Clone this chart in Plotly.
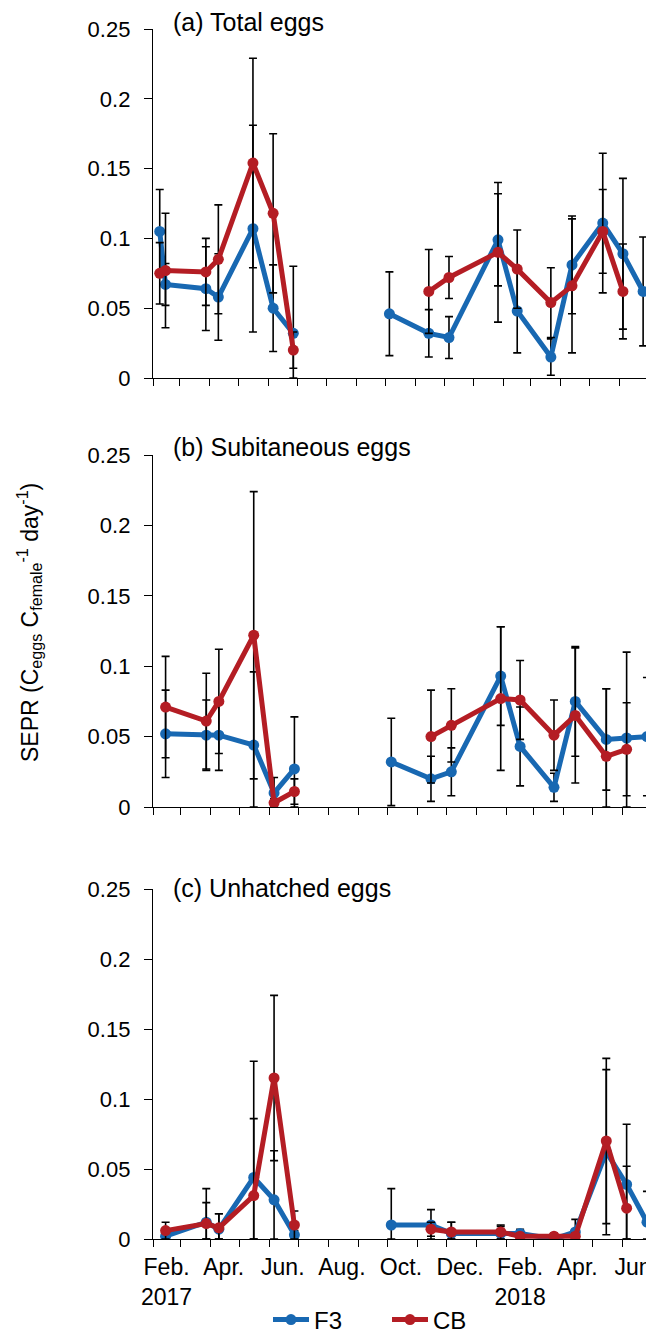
import datetime as dt
import plotly.graph_objects as go

# ---------------- data ----------------
dates = ["2017-02-08", "2017-02-14", "2017-03-28", "2017-04-10", "2017-05-16", "2017-06-06",
         "2017-06-27", "2017-10-05", "2017-11-15", "2017-12-06", "2018-01-26", "2018-02-15",
         "2018-03-22", "2018-04-13", "2018-05-15", "2018-06-05", "2018-06-26"]

# (a) Total eggs
f3_total = [0.105, 0.067, 0.064, 0.058, 0.107, 0.050, 0.032, 0.046, 0.032, 0.029, 0.099, 0.048,
            0.015, 0.081, 0.111, 0.089, 0.062]
f3_total_sd = [0.030, 0.015, 0.030, 0.031, 0.074, 0.031, 0.048, 0.030, 0.017, 0.015, 0.033, 0.030,
               0.013, 0.035, 0.050, 0.054, 0.039]
cb_total = [0.075, 0.077, 0.076, 0.085, 0.154, 0.118, 0.020, None, 0.062, 0.072, 0.090, 0.078,
            0.054, 0.066, 0.105, 0.062, None]
cb_total_sd = [0.022, 0.041, 0.024, 0.039, 0.075, 0.057, 0.013, None, 0.030, 0.015, 0.050, 0.028,
               0.025, 0.048, 0.030, 0.034, None]

# (b) Subitaneous eggs
f3_sub = [None, 0.052, 0.051, 0.051, 0.044, 0.010, 0.027, 0.032, 0.020, 0.025, 0.093, 0.043,
          0.014, 0.075, 0.048, 0.049, 0.050]
f3_sub_sd = [None, 0.031, 0.025, 0.025, 0.052, 0.011, 0.037, 0.031, 0.016, 0.017, 0.035, 0.028,
             0.010, 0.039, 0.036, 0.061, 0.042]
cb_sub = [None, 0.071, 0.061, 0.075, 0.122, 0.003, 0.011, None, 0.050, 0.058, 0.077, 0.076,
          0.051, 0.065, 0.036, 0.041, None]
cb_sub_sd = [None, 0.036, 0.034, 0.037, 0.102, 0.003, 0.009, None, 0.033, 0.026, 0.051, 0.028,
             0.025, 0.048, 0.048, 0.033, None]

# (c) Unhatched eggs
f3_unh = [None, 0.002, 0.012, 0.007, 0.044, 0.028, 0.003, 0.010, 0.010, 0.004, 0.004, 0.004,
          0.000, 0.005, 0.062, 0.039, 0.012]
f3_unh_sd = [None, 0.003, 0.024, 0.011, 0.083, 0.035, 0.003, 0.026, 0.011, 0.008, 0.005, 0.003,
             0.002, 0.009, 0.059, 0.043, 0.022]
cb_unh = [None, 0.006, 0.011, 0.008, 0.031, 0.115, 0.010, None, 0.007, 0.005, 0.005, 0.002,
          0.002, 0.002, 0.070, 0.022, None]
cb_unh_sd = [None, 0.006, 0.015, 0.010, 0.055, 0.059, 0.010, None, 0.005, 0.007, 0.005, 0.002,
             0.002, 0.002, 0.059, 0.030, None]

panel_titles = ["(a) Total eggs", "(b) Subitaneous eggs", "(c) Unhatched eggs"]
series_names = ["F3", "CB"]
month_labels = ["Feb.<br>2017", "Apr.", "Jun.", "Aug.", "Oct.", "Dec.", "Feb.<br>2018", "Apr.", "Jun."]
month_label_dates = ["2017-02-15", "2017-04-15", "2017-06-15", "2017-08-15", "2017-10-15",
                     "2017-12-15", "2018-02-15", "2018-04-15", "2018-06-15"]

# ---------------- styling / layout ----------------
W, H = 646, 1334
ML, MR, MT, MB = 153, 0, 29, 95
PH = H - MT - MB
FONT = "Liberation Sans, Arial, sans-serif"
BLUE = "#1868b2"
RED = "#b41d24"


def py(p):
    return (H - MB - p) / PH


def px_(p):
    return (p - ML) / (W - ML - MR)


# panel pixel extents (top, bottom)
panels_px = [(29, 378), (455, 807), (889, 1239)]
x_end = ["2018-06-29", "2018-06-25", "2018-06-25"]
title_y = [22, 447, 888]


def with_gaps(xs, ys, es):
    ox, oy, oe, om = [], [], [], []
    prev = None
    for x, y, e in zip(xs, ys, es):
        d = dt.date.fromisoformat(x)
        if prev is not None and (d - prev).days > 60:
            ox.append(None); oy.append(None); oe.append(0); om.append(0)
        ox.append(x)
        oy.append(y)
        oe.append(e if e is not None else 0)
        om.append(min(e, y) if (e is not None and y is not None) else 0)
        prev = d
    return ox, oy, oe, om


data = [
    [(f3_total, f3_total_sd), (cb_total, cb_total_sd)],
    [(f3_sub, f3_sub_sd), (cb_sub, cb_sub_sd)],
    [(f3_unh, f3_unh_sd), (cb_unh, cb_unh_sd)],
]
colors = [BLUE, RED]

fig = go.Figure()
for i, pdata in enumerate(data):
    suffix = "" if i == 0 else str(i + 1)
    for j, (vals, sds) in enumerate(pdata):
        xs, ys, ep, em = with_gaps(dates, vals, sds)
        fig.add_trace(go.Scatter(
            x=xs, y=ys, mode="lines+markers", name=series_names[j],
            xaxis="x" + suffix, yaxis="y" + suffix,
            line=dict(color=colors[j], width=5),
            marker=dict(color=colors[j], size=11),
            error_y=dict(type="data", symmetric=False, array=ep, arrayminus=em,
                         color="black", thickness=1.6, width=4),
            connectgaps=False,
            showlegend=(i == 2),
        ))

layout = dict(
    width=W, height=H,
    margin=dict(l=ML, r=MR, t=MT, b=MB, autoexpand=False),
    paper_bgcolor="white", plot_bgcolor="white",
    font=dict(family=FONT, size=22, color="black"),
    legend=dict(orientation="h", x=px_(268), xanchor="left", y=py(1320), yanchor="middle",
                font=dict(size=24), itemwidth=36, entrywidth=68, tracegroupgap=0,
                bgcolor="rgba(0,0,0,0)"),
    annotations=[],
)

for i in range(3):
    suffix = "" if i == 0 else str(i + 1)
    top, bot = panels_px[i]
    xa = dict(
        domain=[0, 1], anchor="y" + suffix, type="date", automargin=False,
        range=["2017-02-01", x_end[i]],
        showline=True, linecolor="black", linewidth=1.4,
        showgrid=False, zeroline=False,
        tickmode="array", tickvals=month_label_dates, ticktext=month_labels,
        ticks="", showticklabels=(i == 2), ticklabelstandoff=7,
        ticklabeloverflow="allow",
        tickfont=dict(size=23),
        minor=dict(ticks="outside", ticklen=7, tickwidth=1.4, tickcolor="black",
                   dtick="M1", tick0="2017-02-01", showgrid=False),
    )
    ya = dict(
        domain=[py(bot), py(top)], anchor="x" + suffix, automargin=False,
        range=[0, 0.25], dtick=0.05, tick0=0,
        showline=True, linecolor="black", linewidth=1.4,
        showgrid=False, zeroline=False,
        ticks="outside", ticklen=8, tickwidth=1.4, tickcolor="black",
        tickfont=dict(size=22), ticklabelstandoff=9,
    )
    layout["xaxis" + suffix] = xa
    layout["yaxis" + suffix] = ya
    layout["annotations"].append(dict(
        text=panel_titles[i], xref="paper", yref="paper",
        x=px_(171), y=py(title_y[i]), xanchor="left", yanchor="middle",
        showarrow=False, font=dict(size=25),
    ))

layout["annotations"].append(dict(
    text="SEPR (C<sub>eggs</sub> C<sub>female</sub><sup>-1</sup> day<sup>-1</sup>)",
    xref="paper", yref="paper", x=px_(29), y=py(623), xanchor="center", yanchor="middle",
    textangle=-90, showarrow=False, font=dict(size=23),
))

fig.update_layout(**layout)
fig.write_html("out.html")
